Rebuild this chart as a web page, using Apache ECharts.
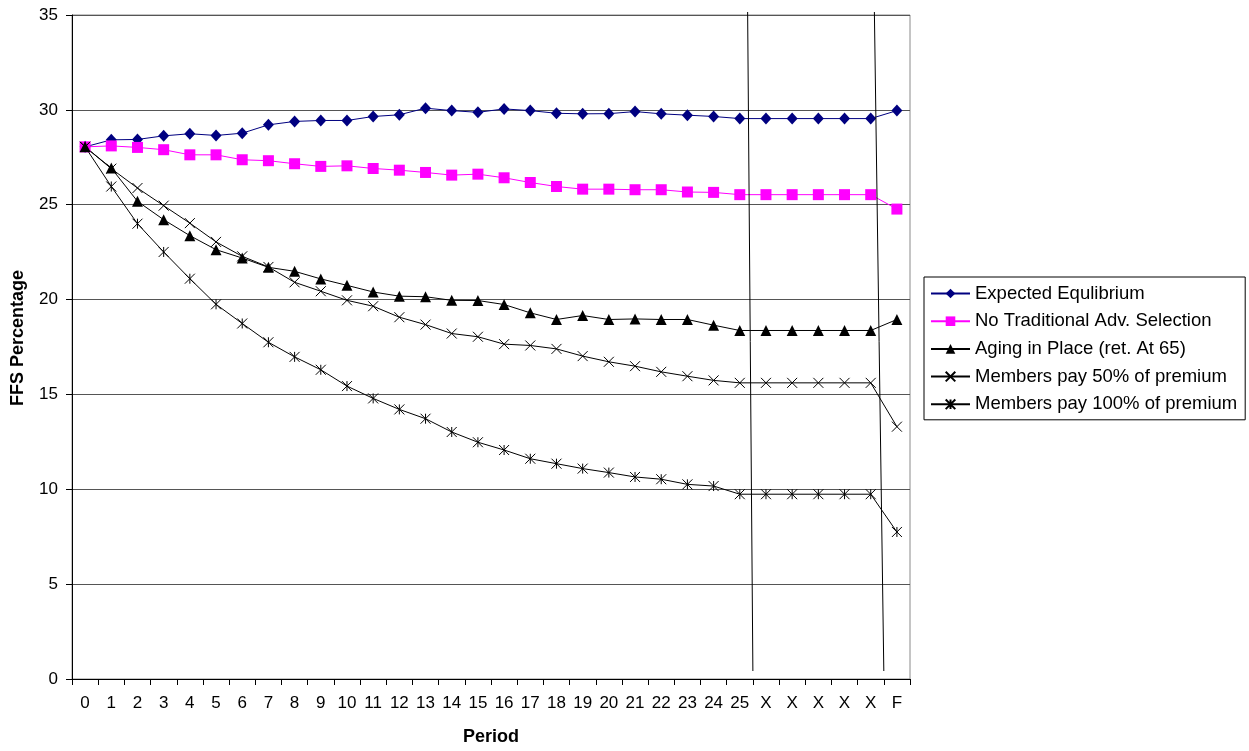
<!DOCTYPE html>
<html>
<head>
<meta charset="utf-8">
<script src="https://cdn.jsdelivr.net/npm/echarts@6/dist/echarts.min.js"></script>
<style>
  html, body { margin: 0; padding: 0; background: #fff; }
  #chart { width: 1249px; height: 751px; }
</style>
</head>
<body>
<div id="chart"></div>
<script>
const periods = ['0', '1', '2', '3', '4', '5', '6', '7', '8', '9', '10', '11', '12', '13', '14', '15',
  '16', '17', '18', '19', '20', '21', '22', '23', '24', '25', 'X', 'X', 'X', 'X', 'X', 'F'];

const expectedEq = [28.05, 28.42, 28.44, 28.63, 28.74, 28.65, 28.77, 29.21, 29.39, 29.44, 29.44, 29.65,
  29.74, 30.09, 29.96, 29.87, 30.05, 29.96, 29.82, 29.79, 29.8, 29.91, 29.79, 29.72, 29.65, 29.54,
  29.54, 29.54, 29.54, 29.54, 29.54, 29.96];
const noTradSelection = [28.05, 28.1, 28.02, 27.9, 27.63, 27.63, 27.37, 27.32, 27.16, 27.02, 27.05, 26.91,
  26.82, 26.7, 26.56, 26.61, 26.42, 26.17, 25.96, 25.82, 25.82, 25.79, 25.79, 25.67, 25.65, 25.53,
  25.53, 25.53, 25.53, 25.53, 25.53, 24.77];
const agingInPlace = [28.05, 26.93, 25.18, 24.21, 23.37, 22.63, 22.19, 21.7, 21.49, 21.09, 20.75, 20.4,
  20.18, 20.15, 19.96, 19.95, 19.74, 19.3, 18.95, 19.16, 18.95, 18.98, 18.95, 18.95, 18.65, 18.37,
  18.37, 18.37, 18.37, 18.37, 18.37, 18.95];
const pay50 = [28.05, 26.9, 25.88, 24.95, 24.03, 23.04, 22.28, 21.72, 20.91, 20.44, 19.96, 19.65,
  19.07, 18.68, 18.21, 18.04, 17.65, 17.58, 17.4, 17.02, 16.72, 16.49, 16.19, 15.96, 15.74, 15.61,
  15.61, 15.61, 15.61, 15.61, 15.61, 13.3];
const pay100 = [28.05, 25.96, 24.0, 22.51, 21.1, 19.75, 18.74, 17.75, 16.98, 16.3, 15.44, 14.79,
  14.21, 13.72, 13.02, 12.48, 12.07, 11.61, 11.35, 11.09, 10.88, 10.65, 10.53, 10.26, 10.17, 9.74,
  9.74, 9.74, 9.74, 9.74, 9.74, 7.75];

// axis breaks drawn after these category indexes
const breakAfter = [25, 30];
const breakLean = [0.2, 0.36]; // top of the break line leans left, in band widths

const FONT = 'Liberation Sans, Arial, sans-serif';
const X_MARK = 'path://M0,0L10,10M10,0L0,10';
const STAR_MARK = 'path://M0,0L10,10M10,0L0,10M5,0L5,10';

function lineSeries(name, data, color, symbol, size, hollow) {
  return {
    name: name,
    type: 'line',
    data: data,
    symbol: symbol,
    symbolSize: size,
    showAllSymbol: true,
    animation: false,
    lineStyle: { color: color, width: 1 },
    itemStyle: hollow
      ? { color: 'rgba(0,0,0,0)', borderColor: color, borderWidth: 1 }
      : { color: color, borderWidth: 0 },
    emphasis: { disabled: true },
  };
}

const chart = echarts.init(document.getElementById('chart'));

const option = {
  backgroundColor: '#fff',
  animation: false,
  textStyle: { fontFamily: FONT },
  grid: {
    left: 72,
    right: 339,
    top: 15,
    bottom: 71,
    show: true,
    borderColor: '#8a8a8a',
    borderWidth: 1,
  },
  legend: {
    orient: 'vertical',
    left: 924,
    top: 277,
    padding: [7, 8, 6, 6],
    itemWidth: 39,
    itemHeight: 12,
    itemGap: 8.7,
    borderColor: '#000',
    borderWidth: 1,
    textStyle: { fontSize: 18.5, color: '#000', fontFamily: FONT },
    data: ['Expected Equlibrium', 'No Traditional Adv. Selection', 'Aging in Place (ret. At 65)',
      'Members pay 50% of premium', 'Members pay 100% of premium'],
  },
  xAxis: {
    type: 'category',
    data: periods,
    boundaryGap: true,
    name: 'Period',
    nameLocation: 'middle',
    nameGap: 49,
    nameTextStyle: { fontSize: 18, fontWeight: 'bold', color: '#000', fontFamily: FONT },
    axisLine: { lineStyle: { color: '#000', width: 1 } },
    axisTick: { show: true, length: 6, lineStyle: { color: '#000' } },
    axisLabel: { fontSize: 17, color: '#000', margin: 16, interval: 0, fontFamily: FONT },
    splitLine: { show: false },
  },
  yAxis: {
    type: 'value',
    min: 0,
    max: 35,
    interval: 5,
    name: 'FFS Percentage',
    nameLocation: 'middle',
    nameGap: 45,
    nameTextStyle: {
      fontSize: 18, fontWeight: 'bold', color: '#000', fontFamily: FONT,
      padding: [0, 0, 0, 18],
    },
    axisLine: { show: true, lineStyle: { color: '#000', width: 1 } },
    axisTick: { show: true, length: 6, lineStyle: { color: '#000' } },
    axisLabel: { fontSize: 17, color: '#000', margin: 14, fontFamily: FONT },
    splitLine: { show: true, lineStyle: { color: '#555', width: 1 } },
  },
  series: [
    lineSeries('Expected Equlibrium', expectedEq, '#000080', 'diamond', [11, 12], false),
    lineSeries('No Traditional Adv. Selection', noTradSelection, '#ff00ff', 'rect', 11, false),
    lineSeries('Aging in Place (ret. At 65)', agingInPlace, '#000', 'triangle', 11, false),
    lineSeries('Members pay 50% of premium', pay50, '#000', X_MARK, 10, true),
    lineSeries('Members pay 100% of premium', pay100, '#000', STAR_MARK, 10, true),
  ],
};

chart.setOption(option);

// break marks between 25|X and X|F
function drawBreaks() {
  const yTop = chart.convertToPixel({ yAxisIndex: 0 }, 35) - 3;
  const yBot = chart.convertToPixel({ yAxisIndex: 0 }, 0) - 8;
  const lines = breakAfter.map(function (i, k) {
    const a = chart.convertToPixel({ xAxisIndex: 0 }, i);
    const b = chart.convertToPixel({ xAxisIndex: 0 }, i + 1);
    const xb = (a + b) / 2;
    return {
      type: 'line',
      z: 100,
      silent: true,
      shape: { x1: xb - breakLean[k] * (b - a), y1: yTop, x2: xb, y2: yBot },
      style: { stroke: '#000', lineWidth: 1 },
    };
  });
  chart.setOption({ graphic: lines });
}
drawBreaks();
</script>
</body>
</html>
